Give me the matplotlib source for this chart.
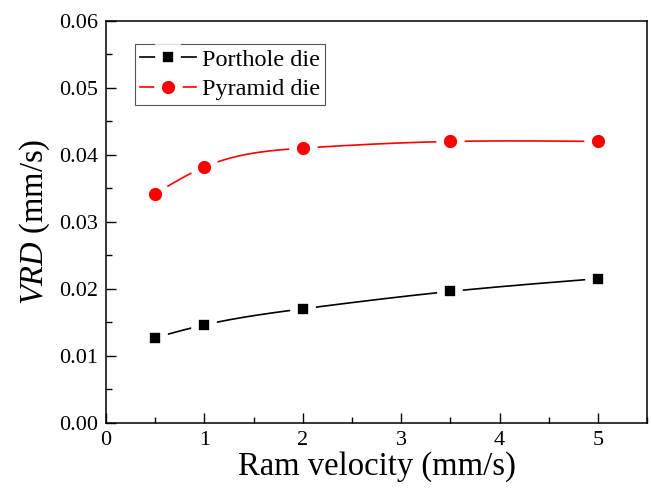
import numpy as np
import matplotlib
matplotlib.use("Agg")
import matplotlib.pyplot as plt
from matplotlib.ticker import MultipleLocator, FormatStrFormatter

ram_velocity = [0.5, 1.0, 2.0, 3.5, 5.0]
porthole_vrd = [0.0127, 0.0146, 0.0170, 0.0196, 0.0215]
pyramid_vrd = [0.0342, 0.0382, 0.0410, 0.0420, 0.0420]

plt.rcParams['font.family'] = ['Liberation Serif', 'DejaVu Serif']
plt.rcParams['mathtext.fontset'] = 'custom'
plt.rcParams['mathtext.it'] = 'Liberation Serif:italic'
plt.rcParams['mathtext.rm'] = 'Liberation Serif'


def natural_spline(x, y, n=40):
    x = np.asarray(x, float); y = np.asarray(y, float)
    k = len(x); h = np.diff(x)
    A = np.zeros((k, k)); b = np.zeros(k)
    A[0, 0] = 1; A[-1, -1] = 1
    for i in range(1, k - 1):
        A[i, i - 1] = h[i - 1]; A[i, i] = 2 * (h[i - 1] + h[i]); A[i, i + 1] = h[i]
        b[i] = 6 * ((y[i + 1] - y[i]) / h[i] - (y[i] - y[i - 1]) / h[i - 1])
    M = np.linalg.solve(A, b)
    xs, ys, idx = [], [], []
    for i in range(k - 1):
        t = np.linspace(x[i], x[i + 1], n, endpoint=False)
        a = x[i + 1] - t; c = t - x[i]
        s = (M[i] * a**3 + M[i + 1] * c**3) / (6 * h[i]) \
            + (y[i] / h[i] - M[i] * h[i] / 6) * a + (y[i + 1] / h[i] - M[i + 1] * h[i] / 6) * c
        idx.append(len(xs))
        xs.extend(t); ys.extend(s)
    idx.append(len(xs)); xs.append(x[-1]); ys.append(y[-1])
    return np.array(xs), np.array(ys), idx


fig = plt.figure(figsize=(6.51, 4.88), dpi=100)
ax = fig.add_axes([0.163, 0.134, 0.831, 0.823])

xs, ys, idx = natural_spline(ram_velocity, porthole_vrd)
ax.plot(xs, ys, color='black', lw=1.2, marker='s', markevery=idx, ms=13.5,
        mfc='black', mec='white', mew=5.5, label='Porthole die', zorder=3)
xs, ys, idx = natural_spline(ram_velocity, pyramid_vrd)
ax.plot(xs, ys, color='red', lw=1.2, marker='o', markevery=idx, ms=15,
        mfc='red', mec='white', mew=5.5, label='Pyramid die', zorder=3)

ax.set_xlim(0, 5.5)
ax.set_ylim(0, 0.06)
ax.xaxis.set_major_locator(MultipleLocator(1))
ax.xaxis.set_minor_locator(MultipleLocator(0.5))
ax.yaxis.set_major_locator(MultipleLocator(0.01))
ax.yaxis.set_minor_locator(MultipleLocator(0.005))
ax.yaxis.set_major_formatter(FormatStrFormatter('%.2f'))
ax.tick_params(which='both', direction='in', width=1.0, labelsize=16, pad=6)
ax.tick_params(which='major', length=7)
ax.tick_params(which='minor', length=4)
for s in ax.spines.values():
    s.set_linewidth(1.1)

ax.set_xlabel('Ram velocity (mm/s)', fontsize=23.5, labelpad=1)
ax.set_ylabel(r'$\mathit{VRD}$ (mm/s)', fontsize=23.5, labelpad=5)

leg = ax.legend(loc='upper left', bbox_to_anchor=(0.054, 0.943), fontsize=17.5,
                frameon=True, fancybox=False, edgecolor='#555555', framealpha=1,
                handlelength=2.3, handletextpad=0.25, borderpad=0.2, labelspacing=0.3,
                borderaxespad=0)
leg.get_frame().set_linewidth(0.8)

fig.savefig('out.png', dpi=100)
